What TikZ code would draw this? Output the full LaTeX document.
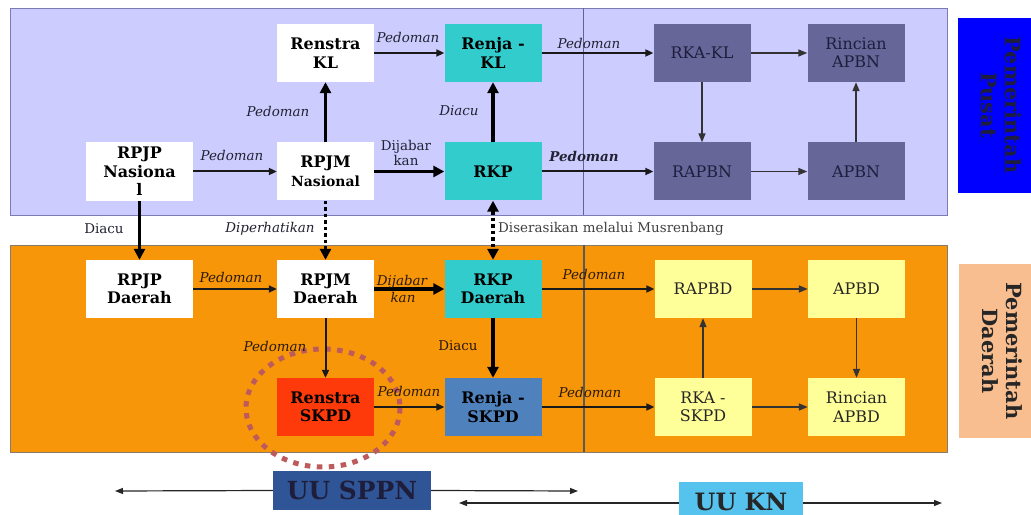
\documentclass[tikz,border=0pt]{standalone}
\usepackage{fontspec}
\setmainfont{DejaVu Serif}
\usetikzlibrary{arrows.meta}
\definecolor{lav}{HTML}{CCCCFF}
\definecolor{lavb}{HTML}{7C7CB4}
\definecolor{orng}{HTML}{F8960A}
\definecolor{orngb}{HTML}{8A7A6A}
\definecolor{tealc}{HTML}{33CCCC}
\definecolor{purp}{HTML}{666699}
\definecolor{yel}{HTML}{FFFF99}
\definecolor{redb}{HTML}{FF3A0A}
\definecolor{steel}{HTML}{4F81BD}
\definecolor{blueb}{HTML}{0000FF}
\definecolor{peach}{HTML}{F9BE8F}
\definecolor{navy}{HTML}{2F5597}
\definecolor{sky}{HTML}{56C3EE}
\definecolor{circc}{HTML}{BC5A5C}
\definecolor{txtd}{HTML}{1E1E3C}
\definecolor{lblc}{HTML}{222233}
\definecolor{lblb}{HTML}{2A1A08}
\newcommand{\bxf}{\fontsize{16}{18.5}\selectfont\bfseries}
\newcommand{\rxf}{\fontsize{16}{18.5}\selectfont}
\newcommand{\lbf}{\fontsize{13.5}{14}\selectfont}
\begin{document}
\begin{tikzpicture}[x=1bp,y=-1bp,
  every node/.style={inner sep=0pt},
  bx/.style={minimum width=97bp, minimum height=58bp, align=center, font=\bxf, text=black},
  wbox/.style={bx, fill=white},
  tbox/.style={bx, fill=tealc},
  pbox/.style={bx, fill=purp, font=\rxf, text=txtd},
  ybox/.style={bx, fill=yel, font=\rxf, text=black!85},
  lbl/.style={font=\lbf, text=lblc},
  ilbl/.style={font=\lbf\itshape, text=lblc},
  blbl/.style={font=\lbf\itshape, text=lblb},
  ar/.style={-{Triangle[length=8bp,width=7bp]}, line width=2bp, draw=black!90},
  tar/.style={-{Triangle[length=11bp,width=11bp]}, line width=3.2bp, draw=black},
  nar/.style={-{Triangle[length=8bp,width=6bp]}, line width=1.2bp, draw=black!85},
  dar/.style={-{Triangle[length=11bp,width=11bp]}, line width=3.8bp, dash pattern=on 3.5bp off 3bp, draw=black},
  sar/.style={-{Triangle[length=9bp,width=7bp]}, line width=1.4bp, draw=black!80},
]
\useasboundingbox (0,0) rectangle (1031,515);
\fill[white] (0,0) rectangle (1031,515);
% panels
\draw[fill=lav, draw=lavb, line width=0.8bp] (10.5,8.5) rectangle (947,215);
\draw[fill=orng, draw=orngb, line width=0.8bp] (10.5,245) rectangle (947,452);
\draw[lavb!80!black, line width=1bp] (583,8.5) -- (583,215);
\draw[black!65, line width=1.2bp] (584,245) -- (584,452);
% side labels
\fill[blueb] (958,18) rectangle (1045,193);
\node[rotate=-90, align=center, font=\fontsize{21}{24}\selectfont\bfseries, text=txtd] (pusat) at (1001,105) {Pemerintah\\Pusat};
\fill[peach] (959,264) rectangle (1045,438);
\node[rotate=-90, align=center, font=\fontsize{21}{24}\selectfont\bfseries, text=black!85] (daerah) at (1002,351) {Pemerintah\\Daerah};
% top nodes
\node[wbox] (renkl) at (325.5,53) {Renstra\\KL};
\node[tbox] (renjakl) at (493,53) {Renja -\\KL};
\node[pbox] (rkakl) at (702,53) {RKA-KL};
\node[pbox] (rinapbn) at (856,53) {Rincian\\APBN};
\node[wbox, minimum width=107bp, minimum height=59bp] (rpjpn) at (139.5,171.5) {RPJP\\Nasiona\\l};
\node[wbox] (rpjmn) at (325.5,171.5) {RPJM\\{\fontsize{14}{16}\selectfont Nasional}};
\node[tbox] (rkp) at (493,171.5) {RKP};
\node[pbox] (rapbn) at (702,171.5) {RAPBN};
\node[pbox] (apbn) at (856,171.5) {APBN};
% bottom nodes
\node[wbox, minimum width=107bp] (rpjpd) at (139.5,289) {RPJP\\Daerah};
\node[wbox] (rpjmd) at (325.5,289) {RPJM\\Daerah};
\node[tbox] (rkpd) at (493,289) {RKP\\Daerah};
\node[ybox] (rapbd) at (703,289) {RAPBD};
\node[ybox] (apbd) at (856.5,289) {APBD};
\node[bx, fill=redb] (renskpd) at (325.5,407) {Renstra\\SKPD};
\node[bx, fill=steel] (renjaskpd) at (493,407) {Renja -\\SKPD};
\node[ybox] (rkaskpd) at (703,407) {RKA -\\SKPD};
\node[ybox] (rinapbd) at (856.5,407) {Rincian\\APBD};
% circle
\draw[circc, line width=5bp, dash pattern=on 5.5bp off 6.5bp] (323,408) ellipse [x radius=77, y radius=59];
% top arrows
\draw[ar] (renkl) -- (renjakl);
\draw[ar] (renjakl) -- (rkakl);
\draw[ar] (rpjpn) -- (rpjmn);
\draw[tar] (rpjmn) -- (renkl);
\draw[tar] (rpjmn) -- (rkp);
\draw[tar] (rkp) -- (renjakl);
\draw[ar] (rkp) -- (rapbn);
\draw[sar] (rkakl) -- (rinapbn);
\draw[sar] (rkakl) -- (rapbn);
\draw[sar] (rapbn) -- (apbn);
\draw[sar] (apbn) -- (rinapbn);
% between
\draw[tar, line width=2.8bp] (rpjpn) -- (rpjpd);
\draw[dar] (rpjmn) -- (rpjmd);
\draw[dar, {Triangle[length=11bp,width=11bp]}-{Triangle[length=11bp,width=11bp]}] (rkp) -- (rkpd);
% bottom arrows
\draw[ar] (rpjpd) -- (rpjmd);
\draw[tar] (rpjmd) -- (rkpd);
\draw[ar] (rkpd) -- (rapbd);
\draw[ar] (rpjmd) -- (renskpd);
\draw[tar] (rkpd) -- (renjaskpd);
\draw[ar] (renskpd) -- (renjaskpd);
\draw[ar] (renjaskpd) -- (rkaskpd);
\draw[sar] (rkaskpd) -- (rapbd);
\draw[sar] (rapbd) -- (apbd);
\draw[sar] (apbd) -- (rinapbd);
\draw[sar] (rkaskpd) -- (rinapbd);
% labels top
\node[ilbl] (l1) at (408,37) {Pedoman};
\node[ilbl] (l2) at (589,43) {Pedoman};
\node[ilbl] (l3) at (232,155) {Pedoman};
\node[ilbl] (l4) at (278,111) {Pedoman};
\node[lbl, align=center, font=\fontsize{13.5}{12.5}\selectfont] (l5) at (406,153) {Dijabar\\kan};
\node[ilbl] (l6) at (459,111) {Diacu};
\node[ilbl, font=\lbf\bfseries\itshape] (l7) at (584,156) {Pedoman};
\node[lbl] (l8) at (104,229) {Diacu};
\node[ilbl] (l9) at (270,229) {Diperhatikan};
\node[lbl, anchor=west, text=black!75] (l10) at (498,229) {Diserasikan melalui Musrenbang};
% labels bottom
\node[blbl] (m1) at (231,277) {Pedoman};
\node[blbl] (m2) at (402,282) {Dijabar};
\node[blbl] (m3) at (403,297) {kan};
\node[blbl] (m4) at (594,274) {Pedoman};
\node[blbl] (m5) at (275,346) {Pedoman};
\node[lbl, text=lblb] (m6) at (458,346) {Diacu};
\node[blbl] (m7) at (409,391) {Pedoman};
\node[blbl] (m8) at (590,392) {Pedoman};
% laws
\node[fill=navy, minimum width=158bp, minimum height=39bp, font=\fontsize{25}{28}\selectfont\bfseries, text=txtd] (sppn) at (352,490.5) {UU SPPN};
\node[fill=sky, minimum width=124bp, minimum height=40bp, font=\fontsize{24}{28}\selectfont\bfseries, text=black!85, anchor=north] (ukn) at (741,482) {UU KN};
\coordinate (sppnL) at (115,491);
\coordinate (sppnR) at (578,491);
\coordinate (uknL) at (459,503);
\coordinate (uknR) at (942,503);
\draw[nar] (sppn.west) -- (sppnL);
\draw[nar] (sppn.east) -- (sppnR);
\draw[nar] (ukn.west |- uknL) -- (uknL);
\draw[nar] (ukn.east |- uknR) -- (uknR);
\end{tikzpicture}
\end{document}
